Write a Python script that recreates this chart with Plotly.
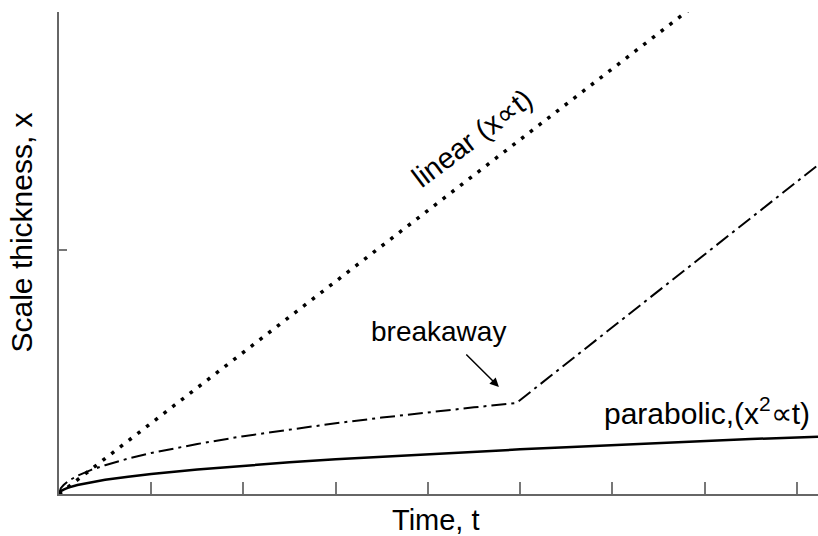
import plotly.graph_objects as go

# Time axis (arbitrary units, one unit per tick)
x_ticks = [1, 2, 3, 4, 5, 6, 7, 8]
y_ticks = [1]

# Linear law (x ∝ t)
lin_t = [0, 8.23]
lin_x = [0, 2.39]

# Parabolic law (x^2 ∝ t)
par_t = [0, 0.02, 0.05, 0.1, 0.2, 0.35, 0.5, 0.75, 1, 1.5, 2, 2.5, 3, 3.5, 4, 4.5, 5, 5.5, 6, 6.5, 7, 7.5, 8.23]
par_x = [0, 0.012, 0.018, 0.026, 0.037, 0.049, 0.058, 0.071, 0.082, 0.100, 0.116, 0.130, 0.142, 0.153,
         0.164, 0.174, 0.183, 0.192, 0.201, 0.209, 0.217, 0.225, 0.235]

# Breakaway oxidation
brk_t = [0, 0.02, 0.05, 0.1, 0.2, 0.35, 0.5, 0.75, 1, 1.5, 2, 2.5, 3, 3.5, 4, 4.5, 4.96, 8.23]
brk_x = [0, 0.024, 0.037, 0.053, 0.075, 0.099, 0.118, 0.145, 0.168, 0.205, 0.237, 0.265, 0.290, 0.313,
         0.335, 0.355, 0.373, 1.348]

FONT = "Liberation Sans"

fig = go.Figure()
fig.add_trace(go.Scatter(x=lin_t, y=lin_x, mode="lines",
                         line=dict(color="black", width=3.5, dash="3.5px,7.5px"),
                         showlegend=False))
fig.add_trace(go.Scatter(x=brk_t, y=brk_x, mode="lines",
                         line=dict(color="black", width=2, dash="15px,5px,3px,5px"),
                         showlegend=False))
fig.add_trace(go.Scatter(x=par_t, y=par_x, mode="lines",
                         line=dict(color="black", width=2.5),
                         showlegend=False))

fig.add_annotation(x=4.48, y=1.46, text="linear (x∝t)", textangle=-37, showarrow=False,
                   font=dict(size=29, color="black", family=FONT))
fig.add_annotation(x=4.11, y=0.664, text="breakaway", showarrow=False,
                   font=dict(size=28, color="black", family=FONT))
fig.add_annotation(x=8.17, y=0.34, text="parabolic,(x<sup>2</sup>∝t)", showarrow=False,
                   xanchor="right", font=dict(size=30, color="black", family=FONT))
fig.add_annotation(x=4.77, y=0.4385, ax=4.40, ay=0.578, axref="x", ayref="y", text="",
                   showarrow=True, arrowhead=2, arrowsize=1.2, arrowwidth=1.5, arrowcolor="black")

# axis titles
fig.add_annotation(xref="paper", yref="paper", x=0.497, y=0, yshift=-26, text="Time, t",
                   showarrow=False, xanchor="center", yanchor="middle",
                   font=dict(size=29, color="black", family=FONT))
fig.add_annotation(xref="paper", yref="paper", x=0, y=0.5415, xshift=-37.5, text="Scale thickness, x",
                   textangle=-90, showarrow=False, xanchor="center", yanchor="middle",
                   font=dict(size=30, color="black", family=FONT))

fig.update_xaxes(range=[0, 8.23], tickvals=x_ticks, showticklabels=False, ticks="inside",
                 ticklen=12, tickwidth=1.5, tickcolor="#777", showline=True, linecolor="#666",
                 linewidth=1.5, showgrid=False, zeroline=False, automargin=False)
fig.update_yaxes(range=[0, 1.975], tickvals=y_ticks, showticklabels=False, ticks="inside",
                 ticklen=8, tickwidth=1.5, tickcolor="#777", showline=True, linecolor="#666",
                 linewidth=1.5, showgrid=False, zeroline=False, automargin=False)

fig.update_layout(width=818, height=536, margin=dict(l=59, r=0, t=12, b=42),
                  plot_bgcolor="white", paper_bgcolor="white")

fig.write_html("out.html", config={"displayModeBar": False},
               post_script="document.body.style.margin='0px';document.body.style.overflow='hidden';")
